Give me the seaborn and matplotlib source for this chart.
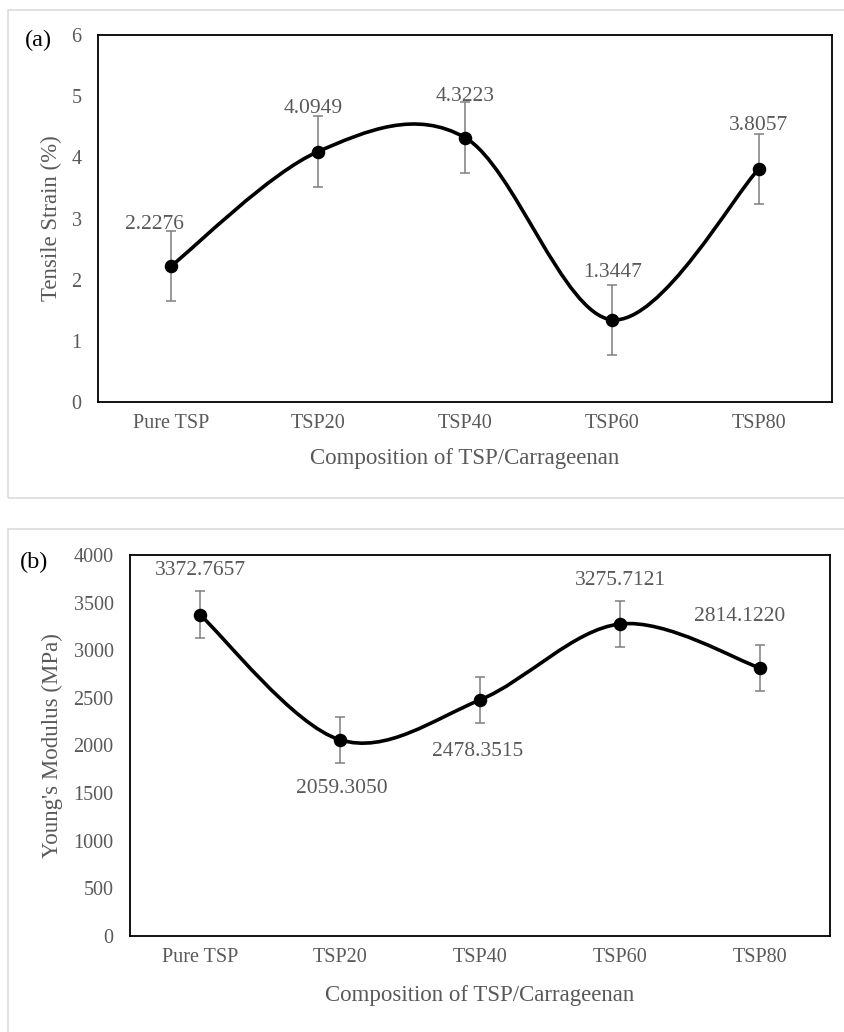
import numpy as np
import pandas as pd
import matplotlib
matplotlib.use("Agg")
import matplotlib.pyplot as plt
import seaborn as sns
from matplotlib.path import Path
from matplotlib.patches import PathPatch, Rectangle

# ---------------- data ----------------
categories = ["Pure TSP", "TSP20", "TSP40", "TSP60", "TSP80"]
strain = [2.2276, 4.0949, 4.3223, 1.3447, 3.8057]
strain_err = [0.575, 0.575, 0.575, 0.575, 0.575]
modulus = [3372.7657, 2059.3050, 2478.3515, 3275.7121, 2814.1220]
modulus_err = [245, 245, 245, 245, 245]
strain_ticks = [0, 1, 2, 3, 4, 5, 6]
modulus_ticks = [0, 500, 1000, 1500, 2000, 2500, 3000, 3500, 4000]

sns.set_theme(style="white")
plt.rcParams["font.family"] = ["Liberation Serif", "DejaVu Serif"]

W, H = 845, 1032
fig = plt.figure(figsize=(W / 100, H / 100), dpi=100)

GREY = "#595959"


def smooth_path(xs, ys):
    pts = np.column_stack([xs, ys]).astype(float)
    n = len(pts)
    verts = [pts[0]]
    codes = [Path.MOVETO]
    for i in range(n - 1):
        p_prev = pts[max(i - 1, 0)]
        p0 = pts[i]
        p1 = pts[i + 1]
        p_next = pts[min(i + 2, n - 1)]
        c1 = p0 + (p1 - p_prev) / 6.0
        c2 = p1 - (p_next - p0) / 6.0
        verts += [c1, c2, p1]
        codes += [Path.CURVE4] * 3
    return Path(verts, codes)


def panel(rect, values, errs, yticks, ylabel, offsets, letter, letter_xy,
          ylab_x, frame_y0, frame_h):
    fig.add_artist(Rectangle((8 / W, frame_y0), 1.2, frame_h,
                             transform=fig.transFigure, fill=False,
                             edgecolor="#d9d9d9", linewidth=1.1))
    ax = fig.add_axes(rect)
    xs = np.arange(len(categories))
    df = pd.DataFrame({"x": xs, "y": values, "cat": categories})
    ax.add_patch(PathPatch(smooth_path(df["x"], df["y"]), facecolor="none",
                           edgecolor="black", linewidth=2.6, zorder=3))
    ax.errorbar(df["x"], df["y"], yerr=errs, fmt="none", ecolor="#7f7f7f",
                elinewidth=1.1, capsize=3.8, capthick=1.1, zorder=2)
    sns.scatterplot(data=df, x="x", y="y", ax=ax, color="black", s=95,
                    edgecolor="black", linewidth=0, zorder=4, legend=False)
    for xv, yv, (dx, dy) in zip(df["x"], df["y"], offsets):
        ax.annotate(f"{yv:.4f}", (xv, yv), xytext=(dx, dy),
                    textcoords="offset points", ha="center", va="center",
                    fontsize=15.5, color=GREY, zorder=5)
    ax.set_xlim(-0.5, len(categories) - 0.5)
    ax.set_ylim(yticks[0], yticks[-1])
    ax.set_yticks(yticks)
    ax.set_yticklabels([str(t) for t in yticks])
    ax.set_xticks([-0.5] + list(xs) + [len(categories) - 0.5])
    ax.set_xticklabels([""] + categories + [""])
    ax.tick_params(axis="both", direction="out", length=3.8, width=1.0,
                   color="black", labelcolor=GREY, labelsize=14.5)
    ax.tick_params(axis="x", pad=5)
    ax.tick_params(axis="y", pad=8)
    for s in ax.spines.values():
        s.set_color("black")
        s.set_linewidth(1.3)
        s.set_visible(True)
    ax.set_xlabel("Composition of TSP/Carrageenan", fontsize=16.5, color=GREY)
    ax.set_ylabel(ylabel, fontsize=16.5, color=GREY)
    ax.xaxis.label.set_va("center")
    ax.yaxis.label.set_va("center")
    ax.xaxis.set_label_coords(0.5, -0.155)
    ax.yaxis.set_label_coords(ylab_x, 0.5)
    fig.text(letter_xy[0], letter_xy[1], letter, fontsize=17.5,
             color="black", ha="center", va="center")
    return ax


# panel (a)
panel([98 / W, 1 - 402 / H, (832 - 98) / W, (402 - 35) / H],
      strain, strain_err, strain_ticks, "Tensile Strain (%)",
      [(-12, 30), (-3.5, 31), (0, 29.5), (0.7, 34), (0, 31.5)],
      "(a)", (38 / W, 1 - 40 / H), (51 - 98) / (832 - 98),
      1 - 498 / H, (498 - 10) / H)

# panel (b)
panel([130 / W, 1 - 936 / H, (830 - 130) / W, (936 - 555) / H],
      modulus, modulus_err, modulus_ticks, "Young's Modulus (MPa)",
      [(0, 31.5), (1.4, -35), (-2, -37), (0, 31.5), (-14.4, 37.4)],
      "(b)", (34 / W, 1 - 562 / H), (52 - 130) / (830 - 130),
      -0.1, 1 - 529 / H + 0.1)

fig.savefig("out.png", dpi=100, facecolor="white")
